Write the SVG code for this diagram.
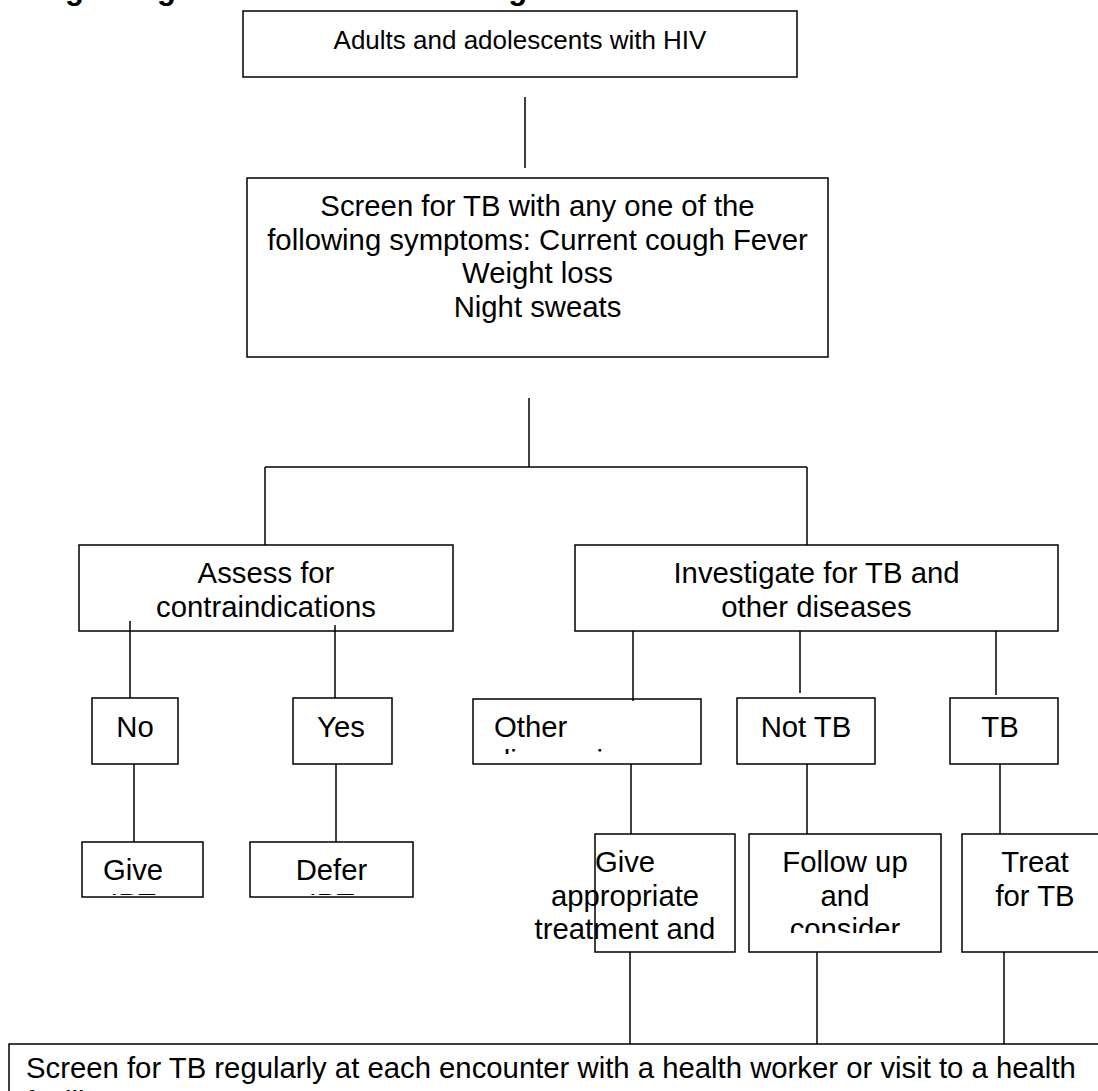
<svg xmlns="http://www.w3.org/2000/svg" width="1098" height="1091" viewBox="0 0 1098 1091">
<style>
.box{fill:#fff;stroke:#000;stroke-width:1.5}
.t{font-family:"Liberation Sans",Arial,sans-serif;font-size:29.3px;fill:#000}
.c{text-anchor:middle}
.ln{stroke:#000;stroke-width:1.5;fill:none}
.title{font-family:"Liberation Sans",Arial,sans-serif;font-size:31px;font-weight:bold;fill:#000}
</style>
<defs>
<clipPath id="cpOther"><rect x="473" y="699" width="228" height="55"/></clipPath>
<clipPath id="cpGive"><rect x="80" y="842" width="123" height="53"/></clipPath>
<clipPath id="cpDefer"><rect x="250" y="842" width="163" height="53"/></clipPath>
<clipPath id="cpAppr"><rect x="480" y="834" width="255" height="110"/></clipPath>
<clipPath id="cpFollow"><rect x="749" y="834" width="192" height="99"/></clipPath>
</defs>
<rect width="1098" height="1091" fill="#fff"/>
<text class="title" x="37.5" y="-1">Fig 1. Algorithm for TB screening</text>
<g id="n-adults"><rect class="box" x="243" y="11" width="554" height="66"/><text class="t c" x="520" y="49" style="font-size:26px">Adults and adolescents with HIV</text></g>
<g id="n-screen"><rect class="box" x="247" y="178" width="581" height="179"/>
<text class="t c" x="537.5" y="216">Screen for TB with any one of the</text>
<text class="t c" x="537.5" y="249.5">following symptoms: Current cough Fever</text>
<text class="t c" x="537.5" y="283">Weight loss</text>
<text class="t c" x="537.5" y="316.5">Night sweats</text></g>
<g id="n-assess"><rect class="box" x="79" y="545" width="374" height="86"/>
<text class="t c" x="266" y="583">Assess for</text><text class="t c" x="266" y="616.5">contraindications</text></g>
<g id="n-invest"><rect class="box" x="575" y="545" width="483" height="86"/>
<text class="t c" x="816.5" y="583">Investigate for TB and</text><text class="t c" x="816.5" y="616.5">other diseases</text></g>
<g id="n-no"><rect class="box" x="92" y="698" width="86" height="66"/><text class="t c" x="135" y="737">No</text></g>
<g id="n-yes"><rect class="box" x="293" y="698" width="99" height="66"/><text class="t c" x="341" y="737">Yes</text></g>
<g id="n-other"><rect class="box" x="473" y="699" width="228" height="65"/>
<g clip-path="url(#cpOther)"><text class="t" x="494" y="737">Other</text><text class="t" x="494" y="770.5">diagnosis</text></g></g>
<g id="n-nottb"><rect class="box" x="737" y="698" width="138" height="66"/><text class="t c" x="806" y="737">Not TB</text></g>
<g id="n-tb"><rect class="box" x="950" y="698" width="108" height="66"/><text class="t c" x="1000" y="737">TB</text></g>
<g id="n-give"><rect class="box" x="82" y="842" width="121" height="55"/>
<g clip-path="url(#cpGive)"><text class="t c" x="133" y="880">Give</text><text class="t c" x="133" y="913.5">IPT</text></g></g>
<g id="n-defer"><rect class="box" x="250" y="842" width="163" height="55"/>
<g clip-path="url(#cpDefer)"><text class="t c" x="331.5" y="880">Defer</text><text class="t c" x="331.5" y="913.5">IPT</text></g></g>
<g id="n-appr"><rect class="box" x="595" y="834" width="140" height="118"/>
<g clip-path="url(#cpAppr)"><text class="t c" x="625" y="872">Give</text><text class="t c" x="625" y="905.5">appropriate</text><text class="t c" x="625" y="939">treatment and</text></g></g>
<g id="n-follow"><rect class="box" x="749" y="834" width="192" height="118"/>
<g clip-path="url(#cpFollow)"><text class="t c" x="845" y="872">Follow up</text><text class="t c" x="845" y="905.5">and</text><text class="t c" x="845" y="939">consider</text></g></g>
<g id="n-treat"><rect class="box" x="962" y="834" width="150" height="118"/>
<text class="t c" x="1035" y="872">Treat</text><text class="t c" x="1035" y="905.5">for TB</text></g>
<g id="n-regular"><rect class="box" x="9" y="1044" width="1110" height="80"/>
<text class="t" x="26" y="1078">Screen for TB regularly at each encounter with a health worker or visit to a health</text>
<text class="t" x="26" y="1111.5">facility</text></g>
<g id="connectors">
<line class="ln" x1="525" y1="97" x2="525" y2="168"/>
<line class="ln" x1="529" y1="398" x2="529" y2="467"/>
<line class="ln" x1="265" y1="467" x2="807" y2="467"/>
<line class="ln" x1="265" y1="467" x2="265" y2="545"/>
<line class="ln" x1="807" y1="467" x2="807" y2="545"/>
<line class="ln" x1="130" y1="621" x2="130" y2="698"/>
<line class="ln" x1="335" y1="625" x2="335" y2="698"/>
<line class="ln" x1="633" y1="631" x2="633" y2="701"/>
<line class="ln" x1="800" y1="631" x2="800" y2="693"/>
<line class="ln" x1="996" y1="631" x2="996" y2="695"/>
<line class="ln" x1="134" y1="764" x2="134" y2="842"/>
<line class="ln" x1="336" y1="764" x2="336" y2="842"/>
<line class="ln" x1="631" y1="764" x2="631" y2="834"/>
<line class="ln" x1="807" y1="764" x2="807" y2="834"/>
<line class="ln" x1="1000" y1="764" x2="1000" y2="834"/>
<line class="ln" x1="630" y1="952" x2="630" y2="1044"/>
<line class="ln" x1="817" y1="952" x2="817" y2="1044"/>
<line class="ln" x1="1004" y1="952" x2="1004" y2="1044"/>
</g>
</svg>
